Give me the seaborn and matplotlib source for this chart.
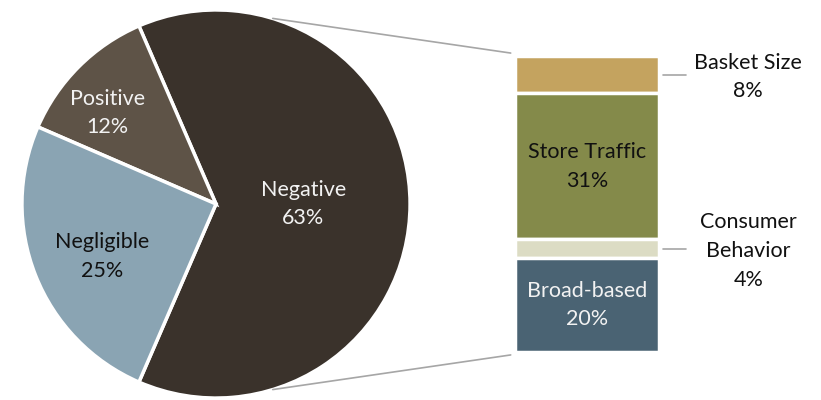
import numpy as np
import matplotlib
matplotlib.use('Agg')
import matplotlib.pyplot as plt
from matplotlib.patches import ConnectionPatch
import seaborn as sns

sns.set_theme(style="white")
plt.rcParams['font.family'] = ['Lato', 'DejaVu Sans']

# Données – camembert principal
pie_labels = ['Negative', 'Positive', 'Negligible']
pie_values = [63, 12, 25]
pie_colors = ['#3A322B', '#5E5347', '#8AA4B3']
pie_text_colors = ['#F2F2F2', '#F2F2F2', '#111111']
pie_label_r = [0.45, 0.73, 0.645]
pie_label_dang = [0, 5, 3]

# Données – barre de décomposition (de haut en bas)
bar_labels = ['Basket Size', 'Store Traffic', 'Consumer Behavior', 'Broad-based']
bar_values = [8, 31, 4, 20]
bar_colors = ['#C4A35F', '#848A4A', '#DCDCC4', '#4A6373']
bar_text_colors = ['#111111', '#111111', '#111111', '#F2F2F2']
bar_inside = [False, True, False, True]
bar_outside_text = ['Basket Size', None, 'Consumer\nBehavior', None]

FS = 15.5
LS = 1.55

fig = plt.figure(figsize=(8.21, 4.0), dpi=100)

# ---- Camembert ----
ax_pie = fig.add_axes([(216 - 196) / 821, 1 - (204 + 196) / 400, 392 / 821, 392 / 400])
start = -pie_values[0] / sum(pie_values) * 360 / 2
wedges, _ = ax_pie.pie(pie_values, colors=pie_colors, startangle=start,
                       counterclock=True,
                       wedgeprops=dict(edgecolor='white', linewidth=2.5))
for w, lab, val, tc, r, da in zip(wedges, pie_labels, pie_values, pie_text_colors,
                                  pie_label_r, pie_label_dang):
    mid = np.deg2rad((w.theta1 + w.theta2) / 2 + da)
    ax_pie.text(r * np.cos(mid), r * np.sin(mid), f'{lab}\n{val}%',
                ha='center', va='center', color=tc, fontsize=FS, linespacing=LS)
ax_pie.set_xlim(-1.01, 1.01)
ax_pie.set_ylim(-1.01, 1.01)
ax_pie.set_aspect('equal')
ax_pie.axis('off')

# ---- Barre empilée ----
total = sum(bar_values)
ax_bar = fig.add_axes([515 / 821, 1 - 354 / 400, 144 / 821, 300 / 400])
bottoms = np.cumsum([0] + bar_values[::-1])[:-1][::-1]
for lab, val, bot, col, tc, inside, out in zip(bar_labels, bar_values, bottoms, bar_colors,
                                               bar_text_colors, bar_inside, bar_outside_text):
    ax_bar.bar(0.5, val, width=1.0, bottom=bot, color=col,
               edgecolor='white', linewidth=2.5)
    yc = bot + val / 2
    if inside:
        ax_bar.text(0.5, yc, f'{lab}\n{val}%', ha='center', va='center',
                    color=tc, fontsize=FS, linespacing=LS)
    else:
        ax_bar.plot([1.03, 1.19], [yc, yc], color='#A6A6A6', lw=1.2, clip_on=False)
        ax_bar.text(1.62, yc - 0.5, f'{out}\n{val}%', ha='center', va='center',
                    color='#111111', fontsize=FS, linespacing=LS)
ax_bar.set_xlim(0, 1)
ax_bar.set_ylim(-0.4, total + 0.4)
ax_bar.axis('off')

# ---- Lignes de liaison ----
ang = np.deg2rad(73)
for sign, ybar in [(1, total + 0.6), (-1, -0.6)]:
    con = ConnectionPatch(xyA=(np.cos(ang), sign * np.sin(ang)), coordsA=ax_pie.transData,
                          xyB=(-0.03, ybar), coordsB=ax_bar.transData,
                          color='#A6A6A6', linewidth=1.2)
    fig.add_artist(con)

fig.savefig('out.png', dpi=100, facecolor='white')
